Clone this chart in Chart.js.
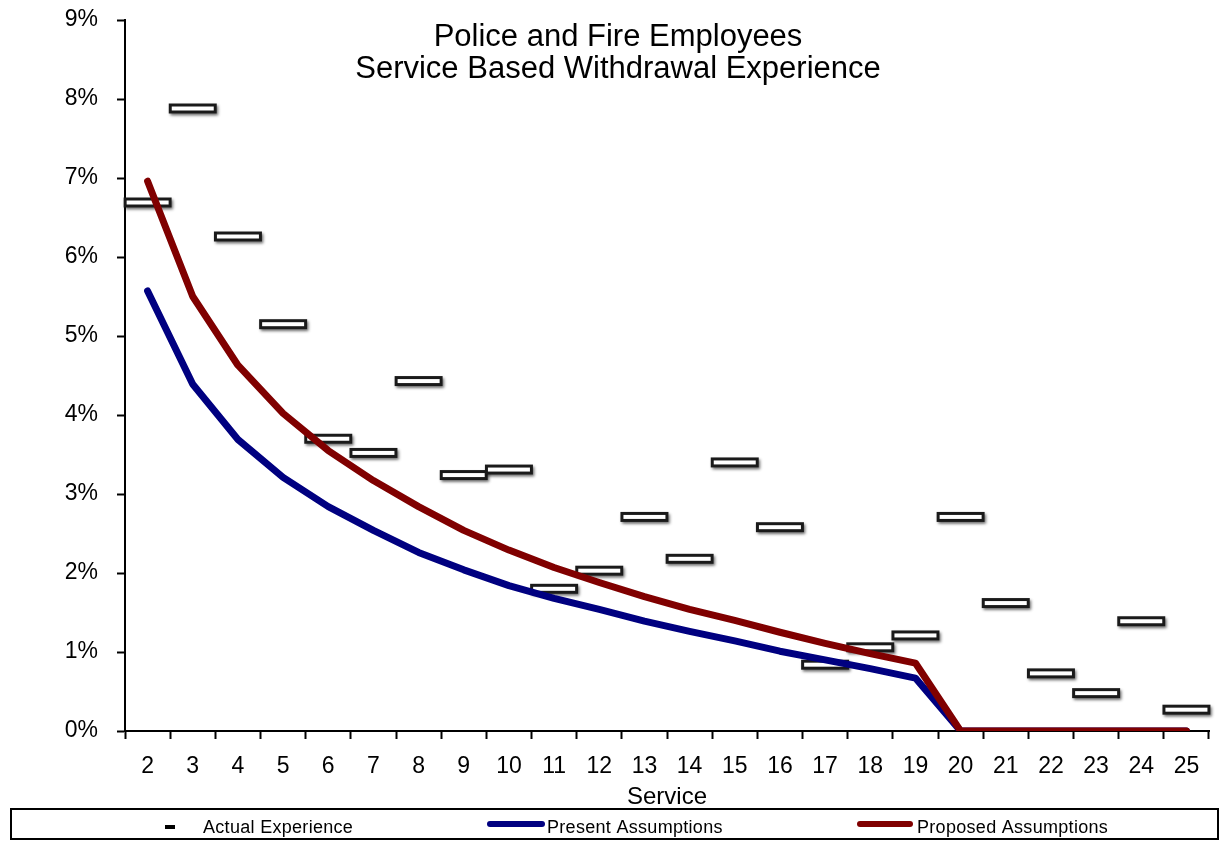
<!DOCTYPE html>
<html>
<head>
<meta charset="utf-8">
<script src="https://cdn.jsdelivr.net/npm/chart.js@4.4.1/dist/chart.umd.min.js"></script>
<style>
  html, body { margin: 0; padding: 0; background: #fff; }
  #wrap { width: 1220px; height: 841px; }
</style>
</head>
<body>
<div id="wrap"><canvas id="c" width="1220" height="841"></canvas></div>
<script>
// ---- Data (values in percent) ----
const categories = ['2','3','4','5','6','7','8','9','10','11','12','13','14','15','16','17','18','19','20','21','22','23','24','25'];
const actualExperience = [6.69, 7.88, 6.26, 5.15, 3.70, 3.52, 4.43, 3.24, 3.31, 1.80, 2.03, 2.71, 2.18, 3.40, 2.58, 0.84, 1.06, 1.21, 2.71, 1.62, 0.73, 0.48, 1.39, 0.27];
const presentAssumptions = [5.57, 4.39, 3.69, 3.21, 2.84, 2.54, 2.26, 2.04, 1.84, 1.68, 1.54, 1.39, 1.26, 1.14, 1.01, 0.90, 0.79, 0.67, 0, 0, 0, 0, 0, 0];
const proposedAssumptions = [6.96, 5.50, 4.63, 4.02, 3.55, 3.17, 2.84, 2.54, 2.29, 2.07, 1.88, 1.70, 1.54, 1.40, 1.25, 1.11, 0.98, 0.86, 0, 0, 0, 0, 0, 0];
const yTicks = [0, 1, 2, 3, 4, 5, 6, 7, 8, 9];
const titleLines = ['Police and Fire Employees', 'Service Based Withdrawal Experience'];
const xAxisTitle = 'Service';
const seriesLabels = ['Actual Experience', 'Present Assumptions', 'Proposed Assumptions'];

const FONT = '"Liberation Sans", Arial, sans-serif';
const NAVY = '#000080';
const MAROON = '#800000';

// Marker image for actual experience: white box with dark outline and soft shadow
function makeBox() {
  const cv = document.createElement('canvas');
  cv.width = 64; cv.height = 24;
  const g = cv.getContext('2d');
  const w = 45, h = 7;
  const x = cv.width / 2 - w / 2, y = cv.height / 2 - h / 2;
  g.save();
  g.shadowColor = 'rgba(0,0,0,0.45)';
  g.shadowBlur = 3;
  g.shadowOffsetX = 1.5;
  g.shadowOffsetY = 2;
  g.fillStyle = '#ffffff';
  g.strokeStyle = '#1a1a1a';
  g.lineWidth = 3;
  g.beginPath();
  g.rect(x, y, w, h);
  g.fill();
  g.stroke();
  g.restore();
  g.fillStyle = '#ffffff';
  g.fillRect(x + 1.5, y + 1.5, w - 3, h - 3);
  return cv;
}
const boxImg = makeBox();

const overlayPlugin = {
  id: 'overlay',
  afterDraw(chart) {
    const ctx = chart.ctx;
    ctx.save();
    // Title
    ctx.fillStyle = '#000';
    ctx.font = '31px ' + FONT;
    ctx.textAlign = 'center';
    ctx.textBaseline = 'alphabetic';
    ctx.fillText(titleLines[0], 618, 46);
    ctx.fillText(titleLines[1], 618, 78);
    // Legend box
    ctx.strokeStyle = '#000';
    ctx.lineWidth = 2;
    ctx.strokeRect(11, 809, 1207, 30);
    // Legend items
    ctx.fillStyle = '#000';
    ctx.fillRect(165, 825, 10, 4);
    ctx.lineCap = 'round';
    ctx.lineWidth = 6;
    ctx.strokeStyle = NAVY;
    ctx.beginPath(); ctx.moveTo(490, 824); ctx.lineTo(542, 824); ctx.stroke();
    ctx.strokeStyle = MAROON;
    ctx.beginPath(); ctx.moveTo(860, 824); ctx.lineTo(910, 824); ctx.stroke();
    ctx.font = '18px ' + FONT;
    if ('letterSpacing' in ctx) ctx.letterSpacing = '0.3px';
    ctx.textAlign = 'left';
    ctx.fillStyle = '#000';
    ctx.fillText(seriesLabels[0], 203, 833);
    ctx.fillText(seriesLabels[1], 547, 833);
    ctx.fillText(seriesLabels[2], 917, 833);
    ctx.restore();
  }
};

new Chart(document.getElementById('c'), {
  type: 'line',
  data: {
    labels: categories,
    datasets: [
      {
        label: seriesLabels[0],
        data: actualExperience,
        showLine: false,
        pointStyle: boxImg,
        pointRadius: 10,
        pointHoverRadius: 10,
        order: 3
      },
      {
        label: seriesLabels[1],
        data: presentAssumptions,
        borderColor: NAVY,
        backgroundColor: NAVY,
        borderWidth: 7,
        pointRadius: 0,
        borderCapStyle: 'round',
        borderJoinStyle: 'round',
        tension: 0,
        order: 2
      },
      {
        label: seriesLabels[2],
        data: proposedAssumptions,
        borderColor: MAROON,
        backgroundColor: MAROON,
        borderWidth: 7,
        pointRadius: 0,
        borderCapStyle: 'round',
        borderJoinStyle: 'round',
        tension: 0,
        order: 1
      }
    ]
  },
  options: {
    responsive: false,
    animation: false,
    events: [],
    layout: { padding: { left: 0, right: 5, top: 20, bottom: 0 } },
    plugins: {
      legend: { display: false },
      title: { display: false },
      tooltip: { enabled: false }
    },
    scales: {
      x: {
        type: 'category',
        offset: true,
        grid: {
          offset: true,
          drawOnChartArea: false,
          drawTicks: true,
          tickLength: 8,
          tickWidth: 2,
          color: '#000'
        },
        border: { display: true, color: '#000', width: 2 },
        ticks: {
          autoSkip: false,
          maxRotation: 0,
          minRotation: 0,
          padding: 14,
          color: '#000',
          font: { family: FONT, size: 23 }
        },
        title: {
          display: true,
          text: xAxisTitle,
          color: '#000',
          font: { family: FONT, size: 24 },
          padding: { top: 0, bottom: 29 }
        },
        afterFit(scale) {
          scale.height = 110;
          scale.paddingLeft = 0;
          scale.paddingRight = 0;
        }
      },
      y: {
        min: 0,
        max: 9,
        afterBuildTicks(scale) { scale.ticks = yTicks.map(v => ({ value: v })); },
        grid: {
          drawOnChartArea: false,
          drawTicks: true,
          tickLength: 8,
          tickWidth: 2,
          color: '#000'
        },
        border: { display: true, color: '#000', width: 2 },
        ticks: {
          padding: 19,
          color: '#000',
          font: { family: FONT, size: 23 },
          callback: (v) => v + '%'
        },
        afterFit(scale) {
          scale.width = 125;
          scale.paddingTop = 0;
          scale.paddingBottom = 0;
        }
      }
    }
  },
  plugins: [overlayPlugin]
});
</script>
</body>
</html>
